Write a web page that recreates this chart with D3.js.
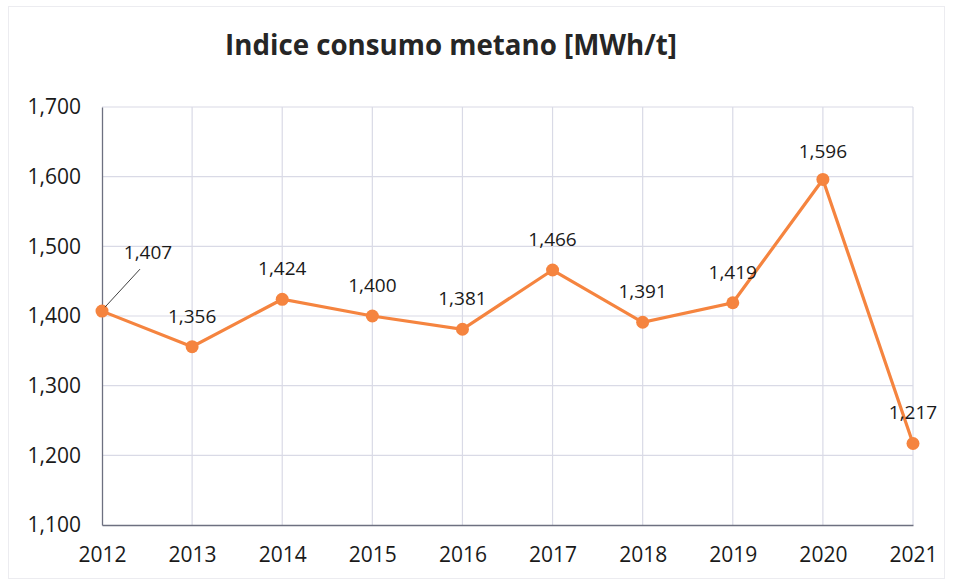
<!DOCTYPE html>
<html><head><meta charset="utf-8">
<script src="https://cdn.jsdelivr.net/npm/d3@7"></script>
<style>body{margin:0;background:#fff}svg{display:block}</style>
</head><body>
<script>
const years = ["2012","2013","2014","2015","2016","2017","2018","2019","2020","2021"];
const values = [1407,1356,1424,1400,1381,1466,1391,1419,1596,1217];
const yTicks = [1100,1200,1300,1400,1500,1600,1700];
const title = "Indice consumo metano [MWh/t]";

const W = 954, H = 585;
const m = {left:102, right:W-913, top:107, bottom:H-525};
const svg = d3.select("body").append("svg").attr("width",W).attr("height",H);
const font = "'Open Sans', 'Noto Sans', sans-serif";

svg.append("rect").attr("x",8.5).attr("y",6.5).attr("width",936).attr("height",572)
  .attr("fill","none").attr("stroke","#ececf0");

const x = d3.scalePoint().domain(years).range([m.left, W-m.right]);
const y = d3.scaleLinear().domain([1100,1700]).range([H-m.bottom, m.top]);

// grid
svg.append("g").selectAll("line").data(yTicks.slice(1)).join("line")
  .attr("x1",m.left).attr("x2",W-m.right)
  .attr("y1",d=>y(d)).attr("y2",d=>y(d))
  .attr("stroke","#d9dae6").attr("stroke-width",1.2);
svg.append("g").selectAll("line").data(years.slice(1)).join("line")
  .attr("x1",d=>x(d)).attr("x2",d=>x(d))
  .attr("y1",m.top).attr("y2",H-m.bottom)
  .attr("stroke","#d9dae6").attr("stroke-width",1.2);

// axes
const yAxis = svg.append("g").attr("transform",`translate(${m.left},0)`)
  .call(d3.axisLeft(y).tickValues(yTicks).tickSize(0).tickPadding(21).tickFormat(d3.format(",")));
yAxis.select(".domain").attr("stroke","#6d7080").attr("stroke-width",1.3);
yAxis.selectAll("text").attr("font-family",font).attr("font-size",21).attr("fill","#1a1a1a");

const xAxis = svg.append("g").attr("transform",`translate(0,${H-m.bottom})`)
  .call(d3.axisBottom(x).tickSize(0).tickPadding(22));
xAxis.select(".domain").attr("stroke","#6d7080").attr("stroke-width",1.3);
xAxis.selectAll("text").attr("font-family",font).attr("font-size",21).attr("fill","#1a1a1a");

const color = "#f5843f";
const data = years.map((d,i)=>({year:d, v:values[i]}));
svg.append("path").datum(data)
  .attr("fill","none").attr("stroke",color).attr("stroke-width",3.2)
  .attr("d", d3.line().x(d=>x(d.year)).y(d=>y(d.v)));
svg.append("g").selectAll("circle").data(data).join("circle")
  .attr("cx",d=>x(d.year)).attr("cy",d=>y(d.v)).attr("r",6.5).attr("fill",color);

// labels
const fmt = d3.format(",");
svg.append("g").selectAll("text").data(data).join("text")
  .attr("x",(d,i)=> i===0 ? x(d.year)+46 : x(d.year))
  .attr("y",(d,i)=> i===0 ? y(d.v)-52 : (i===8 ? y(d.v)-21 : y(d.v)-24))
  .attr("text-anchor","middle")
  .attr("font-family",font).attr("font-size",19).attr("fill","#1a1a1a")
  .text(d=>fmt(d.v));
// leader line
svg.append("line")
  .attr("x1",x(years[0])+3).attr("y1",y(values[0])-4)
  .attr("x2",x(years[0])+38).attr("y2",y(values[0])-42)
  .attr("stroke","#404040").attr("stroke-width",1);

// title
const t = svg.append("text").attr("x",451).attr("y",55).attr("text-anchor","middle")
  .attr("font-family",font).attr("font-weight","bold").attr("font-size",28).attr("fill","#262626")
  .text(title);
const len = t.node().getComputedTextLength();
t.attr("font-size", 28*452/len);
</script>
</body></html>
